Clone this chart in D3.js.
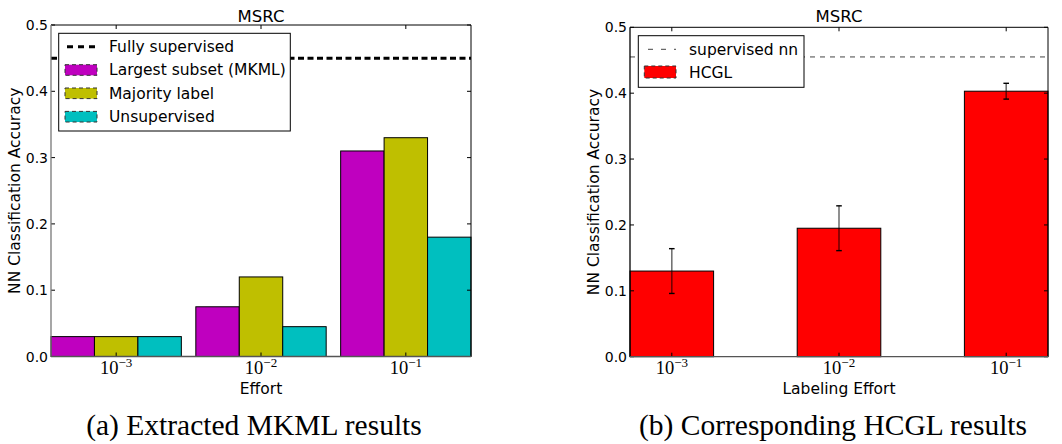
<!DOCTYPE html>
<html><head><meta charset="utf-8">
<script src="https://cdn.jsdelivr.net/npm/d3@7"></script>
<style>
html,body{margin:0;padding:0;background:#fff;}
svg text{font-family:"DejaVu Sans",sans-serif;fill:#000;}
.serif{font-family:"Liberation Serif","DejaVu Serif",serif !important;}
</style></head>
<body>
<svg id="chart" width="1062" height="444"></svg>
<script>
// ---- data ----
const effortExps = [-3, -2, -1];
const seriesNames = ["Largest subset (MKML)", "Majority label", "Unsupervised"];
const seriesColors = ["#bf00bf", "#bfbf00", "#00bfbf"];
const mkmlLargest = [0.03, 0.075, 0.31];
const mkmlMajority = [0.03, 0.12, 0.33];
const mkmlUnsup = [0.03, 0.045, 0.18];
const fullySupervised = 0.45;
const hcglValues = [0.13, 0.195, 0.403];
const hcglErrors = [0.034, 0.034, 0.012];
const supervisedNN = 0.455;
const yTicks = [0.0, 0.1, 0.2, 0.3, 0.4, 0.5];

const svg = d3.select("#chart");
const FS_TICK = "14px", FS_LAB = "15.5px", FS_LEG = "15.5px", FS_TITLE = "16.5px";

function drawAxesFrame(g, x0, x1, y, tickXs, xlabel, bottomColor, leftColor) {
  const yTop = y(0.5), yBot = y(0);
  yTicks.forEach(t => {
    const yy = y(t);
    g.append("line").attr("x1", x0).attr("x2", x0 + 4).attr("y1", yy).attr("y2", yy).attr("stroke", "#000");
    g.append("line").attr("x1", x1).attr("x2", x1 - 4).attr("y1", yy).attr("y2", yy).attr("stroke", "#000");
    g.append("text").attr("x", x0 - 3).attr("y", yy + 5).attr("text-anchor", "end")
      .style("font-size", FS_TICK).text(d3.format(".1f")(t));
  });
  tickXs.forEach((xx, i) => {
    g.append("line").attr("x1", xx).attr("x2", xx).attr("y1", yBot).attr("y2", yBot - 4).attr("stroke", "#000");
    g.append("line").attr("x1", xx).attr("x2", xx).attr("y1", yTop).attr("y2", yTop + 4).attr("stroke", "#000");
    const t = g.append("text").attr("class", "serif").attr("x", xx).attr("y", 374)
      .attr("text-anchor", "middle").style("font-size", "18.5px");
    t.append("tspan").text("10");
    t.append("tspan").attr("dy", -7).style("font-size", "13px").text("\u2212" + Math.abs(effortExps[i]));
  });
  g.append("line").attr("x1", x0).attr("x2", x1).attr("y1", yTop).attr("y2", yTop).attr("stroke", "#000");
  g.append("line").attr("x1", x1).attr("x2", x1).attr("y1", yTop).attr("y2", yBot).attr("stroke", "#000");
  g.append("line").attr("x1", x0).attr("x2", x0).attr("y1", yTop).attr("y2", yBot).attr("stroke", leftColor).attr("stroke-width", 1.3);
  g.append("line").attr("x1", x0).attr("x2", x1).attr("y1", yBot).attr("y2", yBot).attr("stroke", bottomColor).attr("stroke-width", 1.3);
  g.append("text").attr("x", (x0 + x1) / 2).attr("y", 22).attr("text-anchor", "middle").style("font-size", FS_TITLE).text("MSRC");
  g.append("text").attr("x", (x0 + x1) / 2).attr("y", 394).attr("text-anchor", "middle").style("font-size", FS_LAB).text(xlabel);
}

// ---------- Left panel ----------
{
  const X0 = 51, X1 = 471;
  const y = d3.scaleLinear().domain([0, 0.5]).range([356.5, 25]);
  const xg = d3.scaleLinear().domain([-0.45, 2.45]).range([X0, X1]);
  const g = svg.append("g");
  const series = [mkmlLargest, mkmlMajority, mkmlUnsup];
  const bw = 0.3;
  series.forEach((vals, s) => {
    vals.forEach((v, i) => {
      const left = i - 0.45 + s * bw;
      g.append("rect").attr("x", xg(left)).attr("y", y(v))
        .attr("width", xg(left + bw) - xg(left)).attr("height", y(0) - y(v))
        .attr("fill", seriesColors[s]).attr("stroke", "#000").attr("stroke-width", 1);
    });
  });
  g.append("line").attr("x1", X0).attr("x2", X1).attr("y1", y(fullySupervised)).attr("y2", y(fullySupervised))
    .attr("stroke", "#000").attr("stroke-width", 3).attr("stroke-dasharray", "6,3.5");
  drawAxesFrame(g, X0, X1, y, [0, 1, 2].map(xg), "Effort", "#555", "#777");
  g.append("text").attr("transform", `translate(20,${(y(0) + y(0.5)) / 2}) rotate(-90)`)
    .attr("text-anchor", "middle").style("font-size", FS_LAB).text("NN Classification Accuracy");
  const lg = g.append("g");
  lg.append("rect").attr("x", 58.7).attr("y", 33.3).attr("width", 231.6).attr("height", 97.7)
    .attr("fill", "#fff").attr("stroke", "#000").attr("stroke-width", 1);
  const rowY = [46.7, 70, 93.3, 116.7];
  lg.append("line").attr("x1", 65).attr("x2", 97).attr("y1", rowY[0]).attr("y2", rowY[0])
    .attr("stroke", "#000").attr("stroke-width", 3).attr("stroke-dasharray", "6,5").attr("stroke-dashoffset", -2);
  lg.append("text").attr("x", 109).attr("y", rowY[0] + 5.3).style("font-size", FS_LEG).text("Fully supervised");
  seriesNames.forEach((n, s) => {
    const cy = rowY[s + 1];
    lg.append("rect").attr("x", 65).attr("y", cy - 5.3).attr("width", 32).attr("height", 10.6)
      .attr("fill", seriesColors[s]).attr("stroke", "#333").attr("stroke-dasharray", "4,3");
    lg.append("text").attr("x", 109).attr("y", cy + 5.3).style("font-size", FS_LEG).text(n);
  });
  g.append("text").attr("class", "serif").attr("x", 254).attr("y", 435).attr("text-anchor", "middle")
    .style("font-size", "29.5px").text("(a) Extracted MKML results");
}

// ---------- Right panel ----------
{
  const X0 = 630, X1 = 1048;
  const y = d3.scaleLinear().domain([0, 0.5]).range([356.7, 27.3]);
  const x = d3.scaleLinear().domain([-0.25, 2.25]).range([X0, X1]);
  const g = svg.append("g");
  hcglValues.forEach((v, i) => {
    g.append("rect").attr("x", x(i - 0.25)).attr("y", y(v)).attr("width", x(0.5) - x(0)).attr("height", y(0) - y(v))
      .attr("fill", "#ff0000").attr("stroke", "#000").attr("stroke-width", 1);
  });
  hcglValues.forEach((v, i) => {
    const cx = x(i), e = hcglErrors[i];
    g.append("line").attr("x1", cx).attr("x2", cx).attr("y1", y(v + e)).attr("y2", y(v - e))
      .attr("stroke", "#000").attr("stroke-opacity", 0.55).attr("stroke-width", 1.6);
    [v + e, v - e].forEach(c => {
      g.append("line").attr("x1", cx - 2.8).attr("x2", cx + 2.8).attr("y1", y(c)).attr("y2", y(c))
        .attr("stroke", "#000").attr("stroke-width", 1.4);
    });
  });
  g.append("line").attr("x1", X0).attr("x2", X1).attr("y1", y(supervisedNN)).attr("y2", y(supervisedNN))
    .attr("stroke", "#444").attr("stroke-width", 1).attr("stroke-dasharray", "5,5");
  drawAxesFrame(g, X0, X1, y, [0, 1, 2].map(x), "Labeling Effort", "#555", "#000");
  g.append("text").attr("transform", `translate(599,${(y(0) + y(0.5)) / 2}) rotate(-90)`)
    .attr("text-anchor", "middle").style("font-size", FS_LAB).text("NN Classification Accuracy");
  const lg = g.append("g");
  lg.append("rect").attr("x", 638.3).attr("y", 35.7).attr("width", 165.7).attr("height", 51.6)
    .attr("fill", "#fff").attr("stroke", "#000").attr("stroke-width", 1);
  lg.append("line").attr("x1", 648).attr("x2", 676).attr("y1", 49.3).attr("y2", 49.3)
    .attr("stroke", "#444").attr("stroke-width", 1).attr("stroke-dasharray", "5,8");
  lg.append("text").attr("x", 689).attr("y", 54.6).style("font-size", FS_LEG).text("supervised nn");
  lg.append("rect").attr("x", 644.3).attr("y", 66).attr("width", 31.7).attr("height", 12)
    .attr("fill", "#ff0000").attr("stroke", "#333").attr("stroke-dasharray", "4,3");
  lg.append("text").attr("x", 689).attr("y", 77.6).style("font-size", FS_LEG).text("HCGL");
  g.append("text").attr("class", "serif").attr("x", 833).attr("y", 435).attr("text-anchor", "middle")
    .style("font-size", "29.5px").text("(b) Corresponding HCGL results");
}
</script>
</body></html>
